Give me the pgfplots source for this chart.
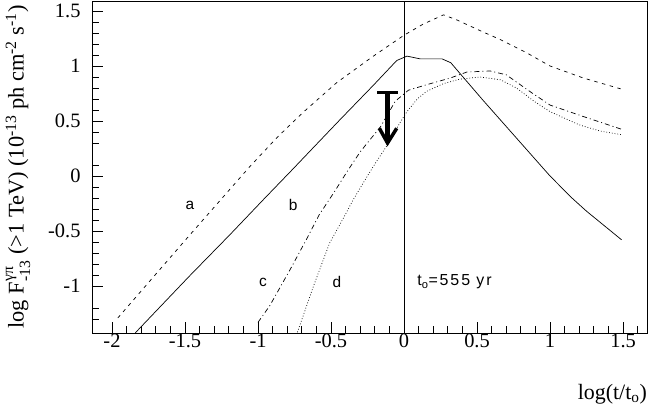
\documentclass[border=0pt]{standalone}
\usepackage{amsmath}
\usepackage{fontspec}
\setmainfont{Liberation Serif}
\newfontfamily\hv{Liberation Sans}
\usepackage{pgfplots}
\pgfplotsset{compat=1.18}

\begin{document}
\begin{tikzpicture}
\begin{axis}[
    at={(0,0)}, anchor=south west,
    scale only axis, width=555bp, height=332bp,
    xmin=-2.137, xmax=1.664, ymin=-1.427, ymax=1.591,
    axis line style={line width=0.8pt},
    tick align=inside, xtick pos=left, ytick pos=left,
    major tick length=11bp, minor tick length=6.5bp,
    every tick/.style={black, line width=0.8pt},
    xtick={-2,-1.5,-1,-0.5,0,0.5,1,1.5},
    xticklabels={-2,-1.5,-1,-0.5,0,0.5,1,1.5},
    minor xtick={-1.9,-1.8,...,1.65},
    ytick={-1,-0.5,0,0.5,1,1.5},
    yticklabels={-1,-0.5,0,0.5,1,1.5},
    minor ytick={-1.3,-1.2,-0.9,-0.8,-0.7,-0.6,-0.4,-0.3,-0.2,-0.1,
                 0.1,0.3,0.4,0.6,0.7,0.8,0.9,1.1,1.2,1.3,1.4},
    tick label style={font=\fontsize{20.5}{22}\selectfont},
    xticklabel style={yshift=3bp},
    yticklabel style={xshift=-8bp},
    xlabel={log(t/t\textsubscript{o})},
    xlabel style={at={(rel axis cs:1,0)}, anchor=north east, yshift=-51bp,
                  inner sep=0pt, font=\fontsize{22}{24}\selectfont},
    ylabel={log F$^{\text{γπ}}_{\text{-13}}$ (>1 TeV) (10$^{\text{-13}}$ ph cm$^{\text{-2}}$ s$^{\text{-1}}$)},
    ylabel style={at={([xshift=-74bp]rel axis cs:0,0.5)}, anchor=center,
                  inner sep=0pt, font=\fontsize{22.5}{24}\selectfont},
    clip=false,
  ]
  % a
  \addplot[black, line width=0.7pt, dash pattern=on 3.5pt off 4.5pt] coordinates {
    (-1.96,-1.29) (-1.47,-0.54) (-1.06,0.08) (-0.87,0.35) (-0.69,0.58)
    (-0.46,0.85) (-0.21,1.09) (0,1.28) (0.13,1.38) (0.27,1.465) (0.36,1.42)
    (0.54,1.31) (0.66,1.24) (0.84,1.12) (1.0,1.0) (1.23,0.89) (1.49,0.79)};
  % b
  \addplot[black, line width=0.7pt] coordinates {
    (-1.84,-1.425) (-1.47,-0.91) (-1.19,-0.53) (-0.96,-0.21) (-0.76,0.065)
    (-0.62,0.26) (-0.44,0.51) (-0.21,0.825) (-0.05,1.05) (0.02,1.09)
    (0.11,1.065) (0.26,1.065) (0.32,1.03) (0.43,0.86) (0.54,0.69) (0.70,0.45)
    (0.84,0.24) (1.0,0.0) (1.15,-0.20) (1.25,-0.32) (1.49,-0.58)};
  % c
  \addplot[black, line width=0.7pt, dash pattern=on 5pt off 3pt on 1pt off 3pt] coordinates {
    (-1.0,-1.33) (-0.92,-1.18) (-0.78,-0.85) (-0.67,-0.58) (-0.58,-0.35)
    (-0.48,-0.15) (-0.39,0.04) (-0.30,0.22) (-0.16,0.45) (-0.06,0.68)
    (0.03,0.78) (0.155,0.83) (0.315,0.89) (0.43,0.945) (0.59,0.955)
    (0.70,0.92) (0.86,0.77) (1.0,0.645) (1.23,0.54) (1.49,0.425)};
  % d
  \addplot[black, line width=0.7pt, dash pattern=on 0.8pt off 2pt] coordinates {
    (-0.73,-1.42) (-0.62,-1.0) (-0.51,-0.61) (-0.41,-0.37)
    (-0.35,-0.22) (-0.26,-0.02) (-0.19,0.13) (-0.12,0.27) (-0.03,0.48)
    (0.02,0.585) (0.09,0.70) (0.155,0.77) (0.27,0.84) (0.38,0.88) (0.52,0.90)
    (0.66,0.875) (0.77,0.80) (0.89,0.68) (1.0,0.585) (1.2,0.465) (1.34,0.41)
    (1.49,0.375)};

  % t_o marker line
  \draw[line width=0.8pt] (axis cs:0,-1.427) -- (axis cs:0,1.591);

  % upper-limit arrow
  \draw[line width=3.3bp] (axis cs:-0.182,0.761) -- (axis cs:-0.041,0.761);
  \draw[line width=4.5bp] (axis cs:-0.113,0.761) -- (axis cs:-0.113,0.32);
  \draw[line width=3.5bp, line join=miter]
    (axis cs:-0.169,0.434) -- (axis cs:-0.113,0.30) -- (axis cs:-0.050,0.434);

  % curve labels
  \node[font=\hv\fontsize{15.5}{17}\selectfont] at (axis cs:-1.466,-0.264) {a};
  \node[font=\hv\fontsize{15.5}{17}\selectfont] at (axis cs:-0.760,-0.264) {b};
  \node[font=\hv\fontsize{15.5}{17}\selectfont] at (axis cs:-0.966,-0.964) {c};
  \node[font=\hv\fontsize{15.5}{17}\selectfont] at (axis cs:-0.459,-0.964) {d};
  \node[anchor=west, inner sep=0pt, font=\hv\fontsize{16}{18}\selectfont\addfontfeature{LetterSpace=12}]
    at (axis cs:0.09,-0.964) {t\textsubscript{o}=555 yr};
\end{axis}
\pgfresetboundingbox
\useasboundingbox (-92bp,-75bp) rectangle (556bp,333bp);
\end{tikzpicture}
\end{document}
